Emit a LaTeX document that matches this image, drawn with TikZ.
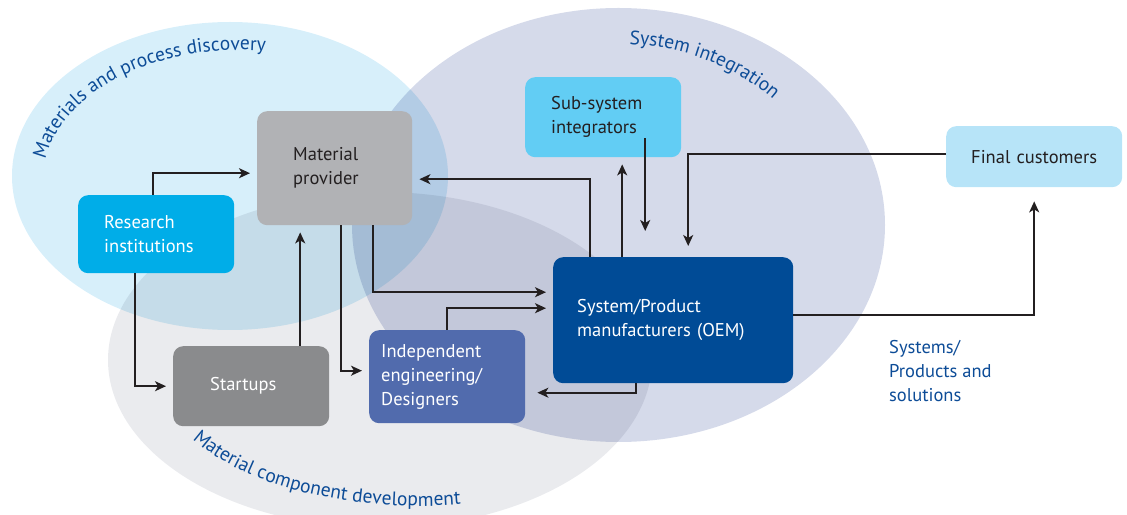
\documentclass[tikz,border=0pt]{standalone}
\usepackage{fontspec}
\setmainfont{PT Sans}
\usepackage{tikz}
\usetikzlibrary{arrows.meta,positioning,decorations.text}
\definecolor{ink}{HTML}{231F20}
\definecolor{labblue}{HTML}{0D4C97}
\definecolor{zoneblue}{HTML}{D7EFFA}
\definecolor{zonepurple}{HTML}{D5DAEA}
\definecolor{zonegrey}{HTML}{EAEBEE}
\definecolor{resblue}{HTML}{00ADE8}
\definecolor{matgrey}{HTML}{B1B2B5}
\definecolor{subblue}{HTML}{62CDF4}
\definecolor{finblue}{HTML}{B7E4F8}
\definecolor{oemblue}{HTML}{004B96}
\definecolor{startgrey}{HTML}{8A8B8D}
\definecolor{indblue}{HTML}{516BAD}
\newcommand{\blkfont}{\fontsize{18.5}{24}\selectfont}
\newcommand{\zonefont}{\fontsize{19.5}{22}\selectfont}
\tikzset{
  blk/.style={rounded corners=10pt,inner ysep=0pt,align=left,
              anchor=north west,font=\blkfont},
  arr/.style={-{Stealth[length=11pt,width=10pt,inset=3pt]},
              line width=1.7pt,ink,shorten >=7pt},
  zonelabel/.style={decorate,decoration={text along path,text align=left,
              text color=labblue,text={|\zonefont|#1}}},
}

\begin{document}
\begin{tikzpicture}[x=1pt,y=1pt]
  \useasboundingbox (0,0) rectangle (1127,514);
  \clip (0,0) rectangle (1127,514);
  % the three zones
  \begin{scope}[blend mode=multiply]
    \fill[zoneblue] (230,338) ellipse [x radius=218pt,y radius=154pt];
    \fill[zonepurple] (618.5,289) ellipse [x radius=266.5pt,y radius=217pt];
    \fill[zonegrey] (380,154) ellipse [x radius=272pt,y radius=168pt];
  \end{scope}
  % zone titles along the rims
  \path[zonelabel={Materials and process discovery}]
    ([shift={(171:197pt and 130pt)}]240,334)
    arc[start angle=171,end angle=20,x radius=197pt,y radius=130pt];
  \path[zonelabel={System integration}]
    ([shift={(87:215pt and 181pt)}]618,289)
    arc[start angle=87,end angle=10,x radius=215pt,y radius=181pt];
  \path[zonelabel={Material component development}]
    ([shift={(209:260pt and 130pt)}]420,138)
    arc[start angle=209,end angle=330,x radius=260pt,y radius=130pt];

  % actors
  \node[blk,fill=resblue,text=white,minimum height=78pt,
        text width=104pt,inner xsep=26pt] (res) at (78,319)
        {Research\\institutions};
  \node[blk,fill=matgrey,text=ink,minimum height=114pt,
        text width=83pt,inner xsep=36pt] (mat) at (257,403)
        {Material\\provider};
  \node[blk,fill=subblue,text=ink,minimum height=80pt,
        text width=104pt,inner xsep=26pt] (sub) at (525,437)
        {Sub-system\\integrators};
  \node[blk,fill=finblue,text=ink,minimum height=61pt,align=center,
        text width=150pt,inner xsep=13pt] (fin) at (946,388)
        {Final customers};
  \node[blk,fill=oemblue,text=white,minimum height=126pt,
        text width=192pt,inner xsep=24pt] (oem) at (553,257)
        {System/Product\\manufacturers (OEM)};
  \node[blk,fill=startgrey,text=white,minimum height=80pt,
        text width=82pt,inner xsep=37pt] (start) at (173,168)
        {Startups};
  \node[blk,fill=indblue,text=white,minimum height=93pt,
        text width=132pt,inner xsep=12pt] (ind) at (369,184)
        {Independent\\engineering/\\Designers};
  \node[anchor=north west,font=\blkfont,text=labblue,align=left,
        inner sep=0pt] (sys) at (889,174)
        {Systems/\\Products and\\solutions};

  % flows
  \draw[arr] ([xshift=-3pt]res.north) |- ([yshift=-5pt]mat.west);
  \draw[arr] ([xshift=-21pt]res.south) |- (start.west);
  \draw[arr] ([xshift=49pt]start.north) -- ([xshift=49pt]start.north |- mat.south);
  \draw[arr] ([xshift=6pt]mat.south) |- ([yshift=6pt]ind.west);
  \draw[arr] ([xshift=38pt]mat.south) |- ([yshift=28pt]oem.west);
  \draw[arr] (ind.north) |- ([yshift=12pt]oem.west);
  \draw[arr] ([xshift=-83pt]oem.north) |- ([yshift=-11pt]mat.east);
  \draw[arr] ([xshift=-51pt]oem.north) -- ([xshift=-51pt]oem.north |- sub.south);
  \draw[arr] ([xshift=42pt,yshift=19pt]sub.south) -- ([xshift=42pt,yshift=19pt]sub.south |- oem.north);
  \draw[arr,shorten >=11pt] ([yshift=3pt]fin.west) -| ([xshift=15pt]oem.north);
  \draw[arr,shorten >=14pt] ([yshift=5pt]oem.east) -| (fin.south);
  \draw[arr,shorten >=12pt] ([xshift=-37pt]oem.south) |- ([yshift=-16pt]ind.east);
\end{tikzpicture}
\end{document}
